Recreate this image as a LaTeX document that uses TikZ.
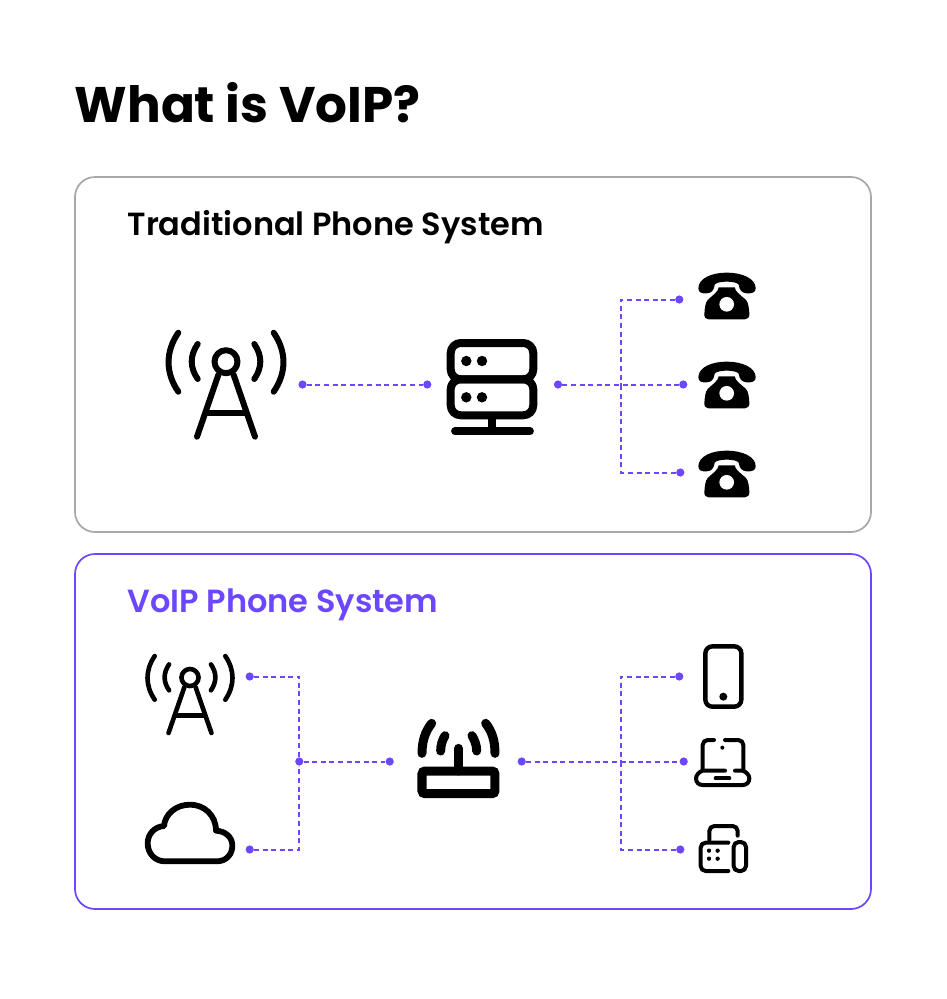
\documentclass[tikz,border=0pt]{standalone}
\usepackage{fontspec}
\setmainfont{Poppins}
\newfontfamily\semifont{Poppins SemiBold}
\definecolor{vio}{HTML}{6C47FF}
\definecolor{frame}{HTML}{A8A7AC}
\newcommand{\towericon}[4]{% x y scale linewidth
\begin{scope}[shift={(#1,#2)},scale=#3,line width=#4,line cap=round,line join=round]
\draw (0,0) circle (11.5);
\draw (-7.7,13.3) -- (-29,75);
\draw (7.7,13.3) -- (29,75);
\draw (-19.3,51.7) -- (19.3,51.7);
\draw (-28.3,-17.7) .. controls (-36.3,-6) and (-36.3,5.7) .. (-28.3,17.3);
\draw (28.3,-17.7) .. controls (36.3,-6) and (36.3,5.7) .. (28.3,17.3);
\draw (-47.7,-29) .. controls (-60.7,-10) and (-60.7,11) .. (-47.7,30);
\draw (47.7,-29) .. controls (60.7,-10) and (60.7,11) .. (47.7,30);
\end{scope}}
\newcommand{\phoneicon}[2]{%
\begin{scope}[shift={(#1,#2)},scale=1/3]
\fill (-85,-15) .. controls (-85,-45) and (-45,-62) .. (0,-62) .. controls (45,-62) and (87,-45) .. (87,-15)
 .. controls (87,-2) and (75,1) .. (60,0) .. controls (45,-1) and (38,-10) .. (36,-26)
 .. controls (28,-38) and (-28,-38) .. (-36,-26) .. controls (-38,-10) and (-45,0) .. (-60,0)
 .. controls (-75,1) and (-85,-2) .. (-85,-15) -- cycle;
\fill (-24,-18) -- (24,-18) .. controls (26,-4) and (40,4) .. (58,20) .. controls (65,28) and (67,45) .. (68,62)
 .. controls (69,72) and (62,78) .. (55,78) -- (-55,78) .. controls (-62,78) and (-68,72) .. (-67,62)
 .. controls (-66,45) and (-64,28) .. (-57,20) .. controls (-40,4) and (-26,-4) .. (-24,-18) -- cycle;
\fill[white] (0,33) circle (22);
\end{scope}}
\tikzset{
 panel/.style={rounded corners=20pt,line width=1.7pt,fill=white},
 conn/.style={vio,line width=2pt,dash pattern=on 5pt off 3.6pt},
 vdot/.style={circle,fill=vio,inner sep=0pt,minimum size=8.2pt},
 heading/.style={anchor=base west,inner sep=0pt,font=\semifont\fontsize{32}{32}\selectfont}
}
\begin{document}
\begin{tikzpicture}[x=1pt,y=-1pt]
\useasboundingbox[fill=white] (0,0) rectangle (946,999);
\node[anchor=base west,inner sep=0pt,font=\bfseries\fontsize{50}{50}\selectfont] (title) at (74.5,122.5) {What is VoIP?};
\draw[panel,draw=frame] (75,177) rectangle (871,532);
\draw[panel,draw=vio] (75,554) rectangle (871,909);
\node[heading] (h1) at (127.4,235) {Traditional Phone System};
\node[heading,text=vio] (h2) at (127.4,612) {VoIP Phone System};

% top icons
\towericon{226}{361.7}{1}{6pt}
\begin{scope}[line join=round]
\draw[line width=8pt,rounded corners=10pt] (450.7,343) rectangle (533.3,379.3);
\draw[line width=8pt,rounded corners=10pt] (450.7,379.3) rectangle (533.3,415.3);
\foreach \p in {(466.3,361),(482,361),(466.3,397.3),(482,397.3)} \fill \p circle (5.2);
\draw[line width=8pt] (492.3,415) -- (492.3,431);
\draw[line width=7.8pt,line cap=round] (455,431.3) -- (530,431.3);
\end{scope}
\phoneicon{726.7}{293.3}
\phoneicon{726.7}{382.3}
\phoneicon{726.7}{471.3}

% top connectors
\node[vdot] (a1) at (302.5,384.5) {};
\node[vdot] (a2) at (427.3,384.5) {};
\node[vdot] (b0) at (558,384.5) {};
\node[vdot] (b1) at (679.3,299.5) {};
\node[vdot] (b2) at (683.3,384.5) {};
\node[vdot] (b3) at (680.3,472.5) {};
\coordinate (bj) at (621,384.5);
\draw[conn] (a1) -- (a2);
\draw[conn] (b0) -- (b2);
\draw[conn] (b1) -| (bj);
\draw[conn] (b3) -| (bj);

% bottom icons
\towericon{190}{677.5}{0.74}{4.6pt}
\begin{scope}[shift={(130,640)},scale=1/3,line width=5.8pt,line join=round]
\draw (105,664) -- (260,664) .. controls (290,664) and (307,642) .. (307,617) .. controls (307,592) and (288,574) .. (258,572)
 .. controls (258,525) and (222,494) .. (180,494) .. controls (138,494) and (105,522) .. (102,558)
 .. controls (72,560) and (53,584) .. (53,610) .. controls (53,640) and (75,664) .. (105,664) -- cycle;
\end{scope}
\begin{scope}[shift={(130,640)},scale=1/3,line width=9pt]
\draw[rounded corners=3pt] (876,393) rectangle (1095,461);
\draw[line cap=round] (985.5,393) -- (985.5,325);
\draw[line cap=round] (905,250) .. controls (885,275) and (876,305) .. (876,340);
\draw[line cap=round] (1067,250) .. controls (1087,275) and (1095,305) .. (1095,340);
\draw[line cap=round] (945,287) .. controls (937,300) and (932,315) .. (932,333);
\draw[line cap=round] (1026,287) .. controls (1034,300) and (1040,315) .. (1040,333);
\end{scope}
\begin{scope}[shift={(610,635)},scale=1/3,line width=4pt,line cap=round,line join=round]
\draw[line width=4.4pt,rounded corners=7pt] (286,34) rectangle (394,215);
\fill (340,185) circle (12);
\draw[rounded corners=5pt] (278,405) -- (278,315) -- (312,315);
\draw[rounded corners=5pt] (345,315) -- (400,315) -- (400,405);
\fill (337,338) circle (6);
\draw (345,407) -- (278,407) .. controls (268,410) and (258,420) .. (258,430) .. controls (258,442) and (266,450) .. (278,450)
 -- (398,450) .. controls (410,450) and (418,442) .. (418,430) .. controls (418,420) and (408,410) .. (398,407) -- (375,407);
\draw (317,430) -- (358,430);
\draw[rounded corners=5pt] (298,615) -- (298,573) -- (383,573) -- (383,602);
\draw[rounded corners=5pt] (355,708) -- (272,708) -- (272,623) -- (355,623);
\draw[rounded corners=5pt] (371,621) rectangle (408,708);
\foreach \p in {(297,647),(323,647),(297,671),(323,671)} \fill \p circle (6.5);
\end{scope}

% bottom connectors
\node[vdot] (c1) at (249.7,676.5) {};
\node[vdot] (c2) at (249.7,849.5) {};
\node[vdot] (c3) at (299.3,761.5) {};
\node[vdot] (c4) at (389.7,761.5) {};
\node[vdot] (d0) at (521.7,761.5) {};
\node[vdot] (d1) at (679.3,676.5) {};
\node[vdot] (d2) at (683.7,761.5) {};
\node[vdot] (d3) at (680.3,849.5) {};
\coordinate (dj) at (621,761.5);
\draw[conn] (c1) -| (c3);
\draw[conn] (c2) -| (c3);
\draw[conn] (c3) -- (c4);
\draw[conn] (d0) -- (d2);
\draw[conn] (d1) -| (dj);
\draw[conn] (d3) -| (dj);
\end{tikzpicture}
\end{document}
